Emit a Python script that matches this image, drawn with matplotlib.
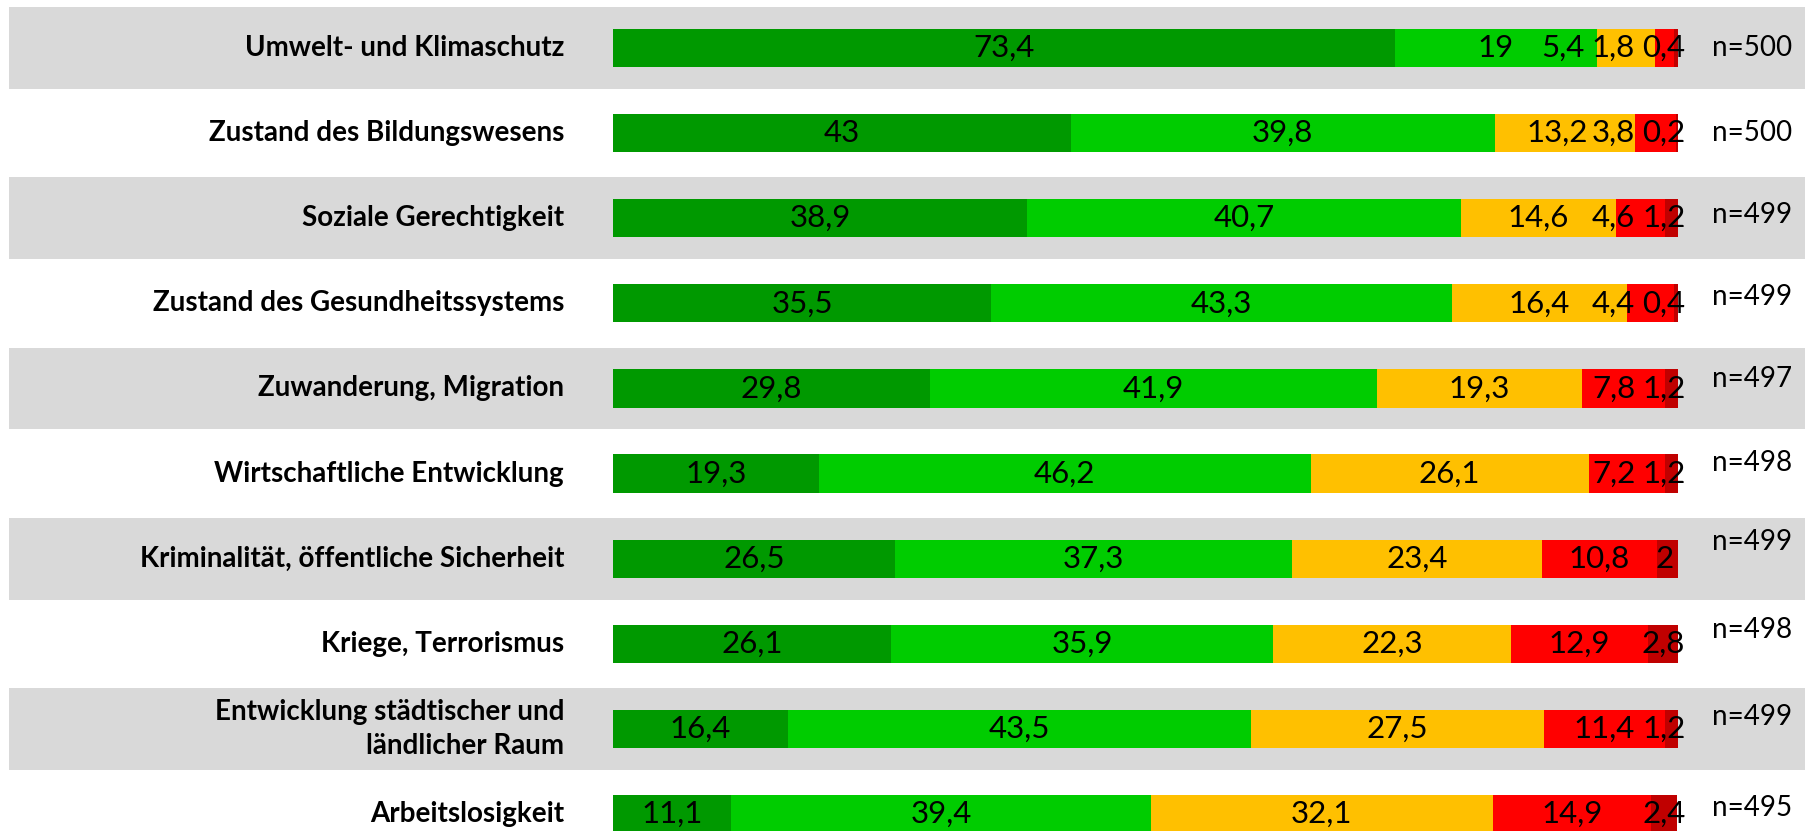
import matplotlib.pyplot as plt

plt.rcParams['font.family'] = ['Lato', 'DejaVu Sans']

categories = [
    "Umwelt- und Klimaschutz",
    "Zustand des Bildungswesens",
    "Soziale Gerechtigkeit",
    "Zustand des Gesundheitssystems",
    "Zuwanderung, Migration",
    "Wirtschaftliche Entwicklung",
    "Kriminalität, öffentliche Sicherheit",
    "Kriege, Terrorismus",
    "Entwicklung städtischer und\nländlicher Raum",
    "Arbeitslosigkeit",
]
sehr_wichtig = [73.4, 43, 38.9, 35.5, 29.8, 19.3, 26.5, 26.1, 16.4, 11.1]
eher_wichtig = [19, 39.8, 40.7, 43.3, 41.9, 46.2, 37.3, 35.9, 43.5, 39.4]
teils = [5.4, 13.2, 14.6, 16.4, 19.3, 26.1, 23.4, 22.3, 27.5, 32.1]
eher_unwichtig = [1.8, 3.8, 4.6, 4.4, 7.8, 7.2, 10.8, 12.9, 11.4, 14.9]
unwichtig = [0.4, 0.2, 1.2, 0.4, 1.2, 1.2, 2, 2.8, 1.2, 2.4]
n_values = [500, 500, 499, 499, 497, 498, 499, 498, 499, 495]

series = [sehr_wichtig, eher_wichtig, teils, eher_unwichtig, unwichtig]
colors = ['#009900', '#00CC00', '#FFC000', '#FF0000', '#C00000']
# vertical nudges for the n= labels (row units, negative = up)
n_dy = [0, 0, -0.04, -0.08, -0.11, -0.12, -0.19, -0.16, -0.14, -0.07]


def fmt(v):
    s = ('%.1f' % v).rstrip('0').rstrip('.')
    return s.replace('.', ',')


def text_w(s):
    # rough label width in percent units
    return sum(0.55 if c == ',' else 1.15 for c in s)


def label_positions(vals):
    lefts = []
    acc = 0
    for v in vals:
        lefts.append(acc)
        acc += v
    centers = [l + v / 2 for l, v in zip(lefts, vals)]
    texts = [fmt(v) for v in vals]
    pos = list(centers)
    pos[-1] = min(pos[-1], 98.7)
    gap = 1.9
    for i in range(len(pos) - 2, -1, -1):
        lim = pos[i + 1] - (text_w(texts[i]) + text_w(texts[i + 1])) / 2 - gap
        pos[i] = min(pos[i], lim)
    return texts, pos


fig = plt.figure(figsize=(18.05, 8.31), dpi=100)
ax = fig.add_axes([613 / 1805, 0, 1065 / 1805, 1])
ax.set_xlim(0, 100)
ax.set_ylim(9.2, -0.564)
ax.axis('off')

rows = range(len(categories))
for i in rows:
    if i % 2 == 0:
        ax.axhspan(i - 0.48, i + 0.48, xmin=-0.567, xmax=1.2,
                   color='#D9D9D9', clip_on=False, zorder=0, lw=0)

left = [0] * len(categories)
for vals, col in zip(series, colors):
    ax.barh(list(rows), vals, left=left, height=0.45, color=col, zorder=2, lw=0)
    left = [a + b for a, b in zip(left, vals)]

for i in rows:
    vals = [s[i] for s in series]
    texts, pos = label_positions(vals)
    for t, x in zip(texts, pos):
        ax.text(x, i, t, ha='center', va='center', fontsize=22.5,
                color='black', zorder=3, clip_on=False)
    ax.text(-4.6, i, categories[i], ha='right', va='center', fontsize=20,
            fontweight='bold', linespacing=1.35, clip_on=False)
    ax.text(103.2, i + n_dy[i], 'n=%d' % n_values[i], ha='left', va='center',
            fontsize=20, clip_on=False)

fig.savefig('out.png', dpi=100)
